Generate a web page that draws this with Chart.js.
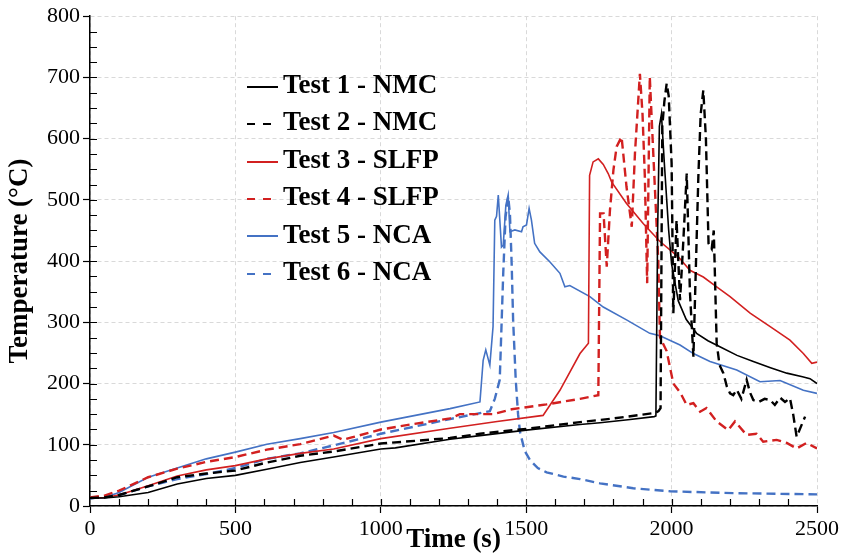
<!DOCTYPE html>
<html lang="en">
<head>
    <meta charset="UTF-8">
    <script src="https://cdn.jsdelivr.net/npm/chart.js"></script>
    <title>Temperature vs time</title>
    <style>
        body { margin: 0; background: #fff; }
        .wrap { position: relative; width: 842px; height: 554px; }
        .legenda {
            position: absolute; left: 247px; top: 66px;
            font-family: 'Liberation Serif', 'Times New Roman', serif;
            font-weight: bold; font-size: 27px; color: #000;
        }
        .legenda div { height: 37.4px; line-height: 37.4px; white-space: nowrap; }
        .legenda span.amostra {
            display: inline-block; width: 31px; height: 2px;
            vertical-align: middle; margin-right: 5px;
        }
    </style>
</head>
<body>
    <div class="wrap">
        <canvas id="myChart" width="842" height="554"></canvas>
        <div class="legenda" id="legenda"></div>
    </div>

<script>
    // valores (tempo em s, temperatura em °C)
    var t1Time = [0,50,100,200,300,400,500,608,723,838,1000,1050,1238,1341,1500,1685,1754,1850,1940,1946,1952,1958,1965,1975,1990,2000,2023,2050,2086,2125,2166,2225,2281,2340,2396,2450,2476,2500]
    var t1Temp = [13,13,15,22,36,45,50,60,71,80,93,95,109,115,124,133,136,141,146,147,450,620,640,560,450,395,335,305,282,270,260,246,236,226,217,211,208,200]

    var t2Time = [0,50,100,200,300,400,500,608,723,838,1000,1238,1341,1500,1685,1800,1943,1955,1962,1968,1975,1983,1990,2000,2006,2017,2029,2040,2052,2063,2075,2092,2100,2109,2118,2127,2138,2145,2155,2165,2178,2190,2201,2212,2224,2240,2258,2270,2281,2300,2320,2339,2355,2373,2390,2407,2418,2430,2445,2459]
    var t2Temp = [13,14,18,32,47,53,58,71,82,89,102,111,118,126,137,143,152,155,160,620,660,690,670,560,315,467,336,430,543,350,244,538,640,679,600,429,420,450,266,230,217,195,184,181,190,175,206,185,173,170,175,173,165,177,170,176,150,113,130,146]

    var t3Time = [0,50,100,200,300,400,500,608,723,838,1000,1238,1400,1558,1616,1685,1714,1718,1730,1748,1765,1782,1794,1845,1903,1960,2023,2063,2109,2155,2201,2270,2339,2407,2453,2482,2500]
    var t3Temp = [13,14,18,33,49,59,66,77,86,93,110,127,138,148,189,249,266,540,562,567,558,543,529,494,461,432,407,385,374,358,342,315,293,271,249,233,235]

    var t4Time = [0,50,100,200,300,400,500,608,723,838,870,900,1000,1100,1238,1272,1386,1450,1570,1685,1748,1754,1766,1777,1788,1800,1811,1828,1845,1863,1874,1891,1900,1908,1916,1925,1937,1954,1960,1983,2006,2030,2052,2075,2098,2120,2155,2195,2218,2258,2292,2315,2361,2396,2430,2464,2500]
    var t4Temp = [14,17,25,47,61,72,80,92,101,115,108,112,125,133,143,150,150,158,166,175,181,478,478,391,483,549,587,603,521,456,576,706,640,538,364,701,576,402,276,253,200,185,165,168,154,160,138,124,138,116,118,105,108,103,94,103,94]

    var t5Time = [0,50,100,200,300,400,500,608,723,838,1000,1238,1341,1352,1361,1375,1386,1392,1398,1404,1415,1421,1430,1438,1444,1461,1484,1489,1501,1510,1518,1529,1547,1581,1616,1633,1650,1719,1765,1845,1925,1960,2029,2075,2132,2224,2304,2373,2453,2500]
    var t5Temp = [12,14,22,47,62,77,88,101,110,120,137,159,170,238,255,230,293,467,473,508,423,426,491,508,448,451,448,456,459,486,467,429,415,399,380,358,360,342,325,304,282,278,263,249,236,222,203,205,189,184]

    var t6Time = [0,50,100,200,300,400,500,608,723,838,1000,1238,1375,1386,1392,1409,1421,1429,1438,1444,1450,1455,1464,1472,1479,1495,1513,1540,1570,1628,1685,1754,1868,1995,2212,2500]
    var t6Temp = [13,14,18,32,44,52,62,77,86,99,118,142,155,168,175,206,380,472,505,478,396,304,206,150,120,90,75,62,55,48,44,37,29,24,21,19]

    var nomes = ['Test 1 - NMC', 'Test 2 - NMC', 'Test 3 - SLFP', 'Test 4 - SLFP', 'Test 5 - NCA', 'Test 6 - NCA']
    var cores = ['#000000', '#000000', '#d22020', '#d22020', '#4472c4', '#4472c4']
    var tracejado = [false, true, false, true, false, true]
    var tempos = [t1Time, t2Time, t3Time, t4Time, t5Time, t6Time]
    var temps = [t1Temp, t2Temp, t3Temp, t4Temp, t5Temp, t6Temp]

    var fonte = "'Liberation Serif', 'Times New Roman', serif"

    // monta os datasets a partir das listas
    var datasets = []
    for (var i = 0; i < nomes.length; i++) {
        var pontos = []
        for (var j = 0; j < tempos[i].length; j++) {
            pontos.push({ x: tempos[i][j], y: temps[i][j] })
        }
        datasets.push({
            label: nomes[i],
            data: pontos,
            borderColor: cores[i],
            borderWidth: tracejado[i] ? 2.4 : 1.6,
            borderDash: tracejado[i] ? [9, 5] : [],
            pointRadius: 0,
            tension: 0,
            fill: false
        })
    }

    // legenda em html dentro da area do grafico
    var legenda = document.getElementById('legenda')
    for (var i = 0; i < nomes.length; i++) {
        var linha = document.createElement('div')
        var amostra = document.createElement('span')
        amostra.className = 'amostra'
        if (tracejado[i]) {
            amostra.style.background = 'repeating-linear-gradient(90deg, ' + cores[i] + ' 0 8px, transparent 8px 16px)'
            amostra.style.height = '2.5px'
        } else {
            amostra.style.background = cores[i]
        }
        linha.appendChild(amostra)
        linha.appendChild(document.createTextNode(nomes[i]))
        legenda.appendChild(linha)
    }

    // tracinhos menores para dentro do grafico
    const ticksInternos = {
        id: 'ticksInternos',
        afterDraw(chart) {
            const { ctx, chartArea: a, scales: { x, y } } = chart
            ctx.save()
            ctx.strokeStyle = '#000'
            ctx.lineWidth = 1.2
            ctx.beginPath()
            for (let v = 100; v < 2500; v += 100) {
                const p = Math.round(x.getPixelForValue(v)) + 0.5
                ctx.moveTo(p, a.bottom)
                ctx.lineTo(p, a.bottom - 7)
            }
            for (let v = 25; v < 800; v += 25) {
                const p = Math.round(y.getPixelForValue(v)) + 0.5
                ctx.moveTo(a.left, p)
                ctx.lineTo(a.left + 7, p)
            }
            ctx.stroke()
            ctx.restore()
        }
    }

    const config = {
        type: 'line',
        data: { datasets: datasets },
        options: {
            responsive: false,
            animation: false,
            layout: { padding: { top: 16, right: 25, left: 0, bottom: 0 } },
            plugins: {
                legend: { display: false },
                tooltip: { enabled: false }
            },
            scales: {
                x: {
                    type: 'linear',
                    min: 0,
                    max: 2500,
                    ticks: { stepSize: 500, color: '#000', padding: 3, maxRotation: 0, font: { family: fonte, size: 22 },
                             callback: function (v) { return String(v) } },
                    grid: { color: '#d9d9d9', lineWidth: 1, tickColor: '#000', tickLength: 7, tickWidth: 1.2 },
                    border: { color: '#000', width: 1.5, dash: [4, 3] },
                    title: { display: true, text: 'Time (s)', color: '#000', padding: 0, font: { family: fonte, size: 27, weight: 'bold', lineHeight: 1 } },
                    afterFit: function (s) { s.height = 48 }
                },
                y: {
                    min: 0,
                    max: 800,
                    ticks: { stepSize: 100, color: '#000', padding: 3, font: { family: fonte, size: 22 },
                             callback: function (v) { return String(v) } },
                    grid: { color: '#d9d9d9', lineWidth: 1, tickColor: '#000', tickLength: 7, tickWidth: 1.2 },
                    border: { color: '#000', width: 1.5, dash: [4, 3] },
                    title: { display: true, text: 'Temperature (°C)', color: '#000', padding: { top: 7, bottom: 0 }, font: { family: fonte, size: 27, weight: 'bold', lineHeight: 1 } },
                    afterFit: function (s) { s.width = 90 }
                }
            }
        },
        plugins: [ticksInternos]
    };

    let myChart = new Chart(document.getElementById('myChart'), config);
</script>
</body>
</html>
